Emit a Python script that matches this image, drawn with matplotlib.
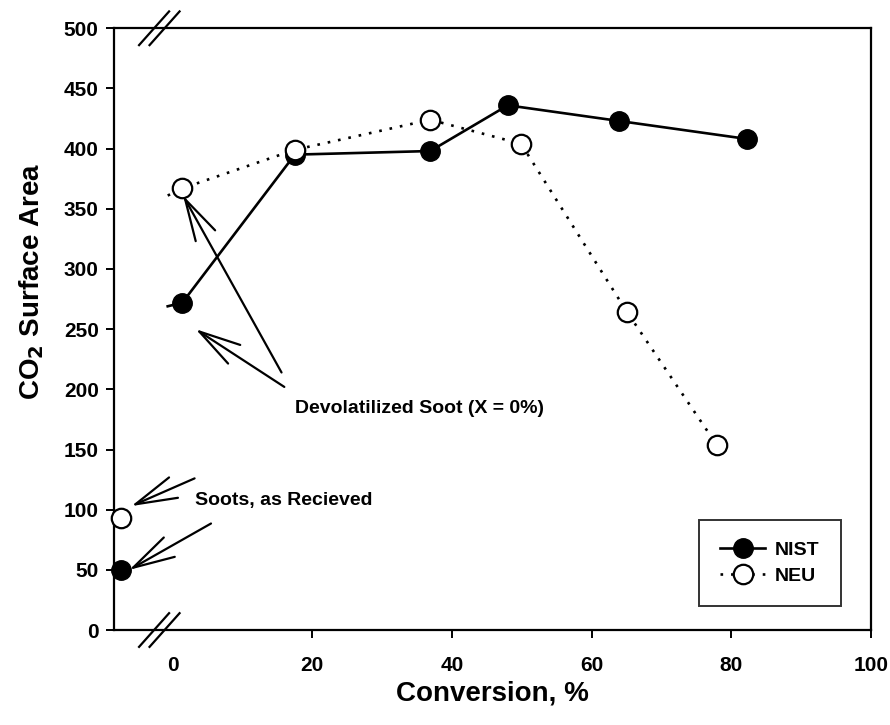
import matplotlib.pyplot as plt
import matplotlib.lines as mlines

plt.rcParams['font.family'] = ['Liberation Sans', 'DejaVu Sans']

# data
nist_x = [-0.7, 1.4, 17.5, 36.9, 48.0, 63.9, 82.3]
nist_y = [269, 272, 395, 398, 436, 423, 408]
neu_x = [-0.7, 1.4, 17.5, 36.9, 49.9, 65.1, 77.9]
neu_y = [361, 367, 399, 424, 404, 264, 154]

# soots as received (not joined to the lines)
recv_x = [-7.35, -7.35]
recv_y = [50, 93]

yticks = [0, 50, 100, 150, 200, 250, 300, 350, 400, 450, 500]
xticks = [0, 20, 40, 60, 80, 100]

fig = plt.figure(figsize=(8.9, 7.25), dpi=100)
ax = fig.add_axes([0.128, 0.131, 0.8506, 0.830])

ax.plot(nist_x, nist_y, '-', color='black', lw=1.9, marker='o', ms=14,
        mfc='black', mec='black', markevery=slice(1, None), label='NIST', zorder=3)
ax.plot(neu_x, neu_y, color='black', lw=1.9, ls=(0, (1, 3)), marker='o', ms=14,
        mfc='white', mec='black', mew=1.6, markevery=slice(1, None), label='NEU', zorder=4)

ax.plot(recv_x[0], recv_y[0], 'o', ms=14, mfc='black', mec='black', zorder=3, clip_on=False)
ax.plot(recv_x[1], recv_y[1], 'o', ms=14, mfc='white', mec='black', mew=1.6, zorder=3, clip_on=False)

ax.set_xlim(-8.4, 100)
ax.set_ylim(0, 500)
ax.set_xticks(xticks)
ax.set_yticks(yticks)
ax.tick_params(direction='out', length=6, width=1.4, labelsize=15)
ax.tick_params(axis='x', pad=13)
ax.tick_params(axis='y', pad=5)
for lb in ax.get_xticklabels() + ax.get_yticklabels():
    lb.set_fontweight('bold')
ax.xaxis.get_major_ticks()[0].tick1line.set_visible(False)
for s in ax.spines.values():
    s.set_linewidth(1.6)

ax.set_xlabel('Conversion, %', fontsize=20, fontweight='bold', labelpad=4)
ax.set_ylabel('CO$_\\mathbf{2}$ Surface Area', fontsize=20, fontweight='bold')
ax.yaxis.set_label_coords(-0.09, 0.58)

# annotations
arw = dict(arrowstyle='->,head_length=1.5,head_width=0.4', lw=1.6, color='black',
           shrinkA=0, shrinkB=0, mutation_scale=20)
ax.annotate('', xy=(1.5, 361), xytext=(15.6, 214), arrowprops=arw)
ax.annotate('', xy=(3.3, 250), xytext=(16.0, 202), arrowprops=arw)
ax.text(17.5, 184, 'Devolatilized Soot (X = 0%)', fontsize=14, fontweight='bold',
        va='center', ha='left')

ax.annotate('', xy=(-5.9, 103), xytext=(3.15, 126), arrowprops=arw, annotation_clip=False)
ax.annotate('', xy=(-6.2, 50), xytext=(5.5, 88.5), arrowprops=arw, annotation_clip=False)
ax.text(3.15, 108, 'Soots, as Recieved', fontsize=14, fontweight='bold',
        va='center', ha='left')

# axis break marks
tr = ax.get_xaxis_transform()
for yb in [0.0, 1.0]:
    for dx in [-0.75, 0.75]:
        ax.add_line(mlines.Line2D([-4.05 + dx, 0.25 + dx], [yb - 0.028, yb + 0.028],
                                  transform=tr, color='black', lw=1.6, clip_on=False))

leg = ax.legend(loc='lower right', bbox_to_anchor=(0.960, 0.040), prop=dict(size=14, weight='bold'),
                frameon=True, fancybox=False, edgecolor='black', handlelength=2.3,
                borderpad=1.1, labelspacing=0.4, handletextpad=0.5, borderaxespad=0)
leg.get_frame().set_linewidth(1.4)

fig.savefig('out.png', dpi=100)
